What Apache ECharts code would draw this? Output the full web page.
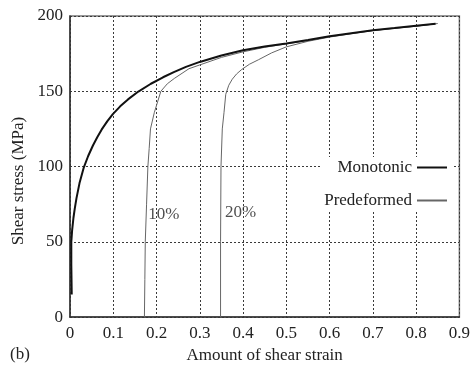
<!DOCTYPE html>
<html>
<head>
<meta charset="utf-8">
<script src="https://cdn.jsdelivr.net/npm/echarts@6/dist/echarts.min.js"></script>
<style>
  html, body { margin: 0; padding: 0; background: #fff; }
  #chart { width: 473px; height: 369px; }
</style>
</head>
<body>
<div id="chart"></div>
<script>
// Shear stress–strain curves: monotonic loading vs. specimens predeformed 10% and 20%
const xTicks = [0, 0.1, 0.2, 0.3, 0.4, 0.5, 0.6, 0.7, 0.8, 0.9];
const yTicks = [0, 50, 100, 150, 200];

const monotonicStrain = [0.004, 0.003, 0.003, 0.005, 0.008, 0.011, 0.015, 0.022, 0.032, 0.042, 0.053, 0.063, 0.073, 0.086, 0.099, 0.116, 0.134, 0.158, 0.187, 0.215, 0.24, 0.268, 0.3, 0.35, 0.4, 0.45, 0.5, 0.55, 0.6, 0.65, 0.7, 0.75, 0.8, 0.845];
const monotonicStress = [15, 35, 50, 58, 66, 72, 79, 89, 99.5, 107, 114, 119.5, 124.5, 130, 134.8, 140, 144.6, 149.8, 155, 159.3, 162.7, 166.2, 169.5, 173.8, 177.3, 179.8, 181.8, 184, 186.5, 188.6, 190.6, 192, 193.5, 194.8];

const pre10Strain = [0.172, 0.173, 0.174, 0.177, 0.18, 0.183, 0.186, 0.195, 0.21, 0.225, 0.241, 0.275, 0.3, 0.35, 0.4, 0.45, 0.5, 0.55, 0.6, 0.65, 0.7, 0.75, 0.8, 0.84];
const pre10Stress = [0, 25, 50, 75, 100, 112, 125, 136, 150, 155, 158.5, 165, 167.5, 172.5, 176.2, 179.2, 181.5, 183.7, 186.3, 188.4, 190.4, 191.9, 193.3, 194.6];

const pre20Strain = [0.348, 0.348, 0.349, 0.352, 0.356, 0.36, 0.367, 0.375, 0.385, 0.397, 0.415, 0.436, 0.466, 0.5, 0.55, 0.6, 0.65, 0.7, 0.75, 0.8, 0.85];
const pre20Stress = [0, 50, 100, 125, 136, 148, 154, 158, 161.5, 164.5, 168, 171, 175.5, 179.5, 183.2, 186, 188.2, 190.3, 191.8, 193.2, 195];

const tagTexts = ['10%', '20%'];
const tagStrain = [0.181, 0.358];
const tagStress = [68, 69.5];

const pairs = (xs, ys) => xs.map((x, i) => [x, ys[i]]);
const serif = '"Liberation Serif", "DejaVu Serif", serif';
const ink = '#222';

const chart = echarts.init(document.getElementById('chart'), null, { renderer: 'canvas' });
chart.setOption({
  animation: false,
  backgroundColor: '#fff',
  textStyle: { fontFamily: serif },
  grid: {
    left: 70, right: 11, top: 16, bottom: 49,
    show: true, borderColor: '#777', borderWidth: 1.5, backgroundColor: 'transparent'
  },
  xAxis: {
    type: 'value',
    min: xTicks[0], max: xTicks[xTicks.length - 1], interval: 0.1,
    name: 'Amount of shear strain',
    nameLocation: 'middle', nameGap: 28,
    nameTextStyle: { fontFamily: serif, fontSize: 17, color: ink },
    axisLine: { show: true, lineStyle: { color: '#333', width: 1.5 } },
    axisTick: { show: false },
    axisLabel: {
      margin: 8, fontFamily: serif, fontSize: 17, color: ink,
      formatter: v => String(+v.toFixed(1))
    },
    splitLine: { show: true, lineStyle: { color: '#3a3a3a', width: 1, type: [2, 2] } }
  },
  yAxis: {
    type: 'value',
    min: yTicks[0], max: yTicks[yTicks.length - 1], interval: 50,
    name: 'Shear stress (MPa)',
    nameLocation: 'middle', nameGap: 43,
    nameTextStyle: { fontFamily: serif, fontSize: 17, color: ink, padding: [0, 29, 0, 0] },
    axisLine: { show: true, lineStyle: { color: '#333', width: 1.5 } },
    axisTick: { show: false },
    axisLabel: { margin: 7, fontFamily: serif, fontSize: 17, color: ink },
    splitLine: { show: true, lineStyle: { color: '#3a3a3a', width: 1, type: [2, 2] } }
  },
  legend: {
    data: ['Monotonic', 'Predeformed'],
    orient: 'vertical',
    right: 21, top: 157,
    align: 'right',
    itemWidth: 30, itemHeight: 14, itemGap: 16,
    itemStyle: { opacity: 0 },
    backgroundColor: '#fff',
    padding: [2, 4, 2, 4],
    textStyle: { fontFamily: serif, fontSize: 17, color: ink }
  },
  graphic: [{
    type: 'text', left: 10, top: 346,
    style: { text: '(b)', font: '17px "Liberation Serif", serif', fill: ink }
  }],
  series: [
    {
      name: 'Predeformed', type: 'line', symbol: 'none', z: 2,
      data: pairs(pre10Strain, pre10Stress),
      lineStyle: { color: '#666', width: 1 }, itemStyle: { color: '#666' }
    },
    {
      name: 'Predeformed', type: 'line', symbol: 'none', z: 2,
      data: pairs(pre20Strain, pre20Stress),
      lineStyle: { color: '#666', width: 1 }, itemStyle: { color: '#666' }
    },
    {
      name: 'Monotonic', type: 'line', symbol: 'none', z: 3,
      data: pairs(monotonicStrain, monotonicStress),
      lineStyle: { color: '#111', width: 2 }, itemStyle: { color: '#111' }
    },
    {
      name: 'tags', type: 'scatter', symbolSize: 0, z: 4, silent: true,
      data: pairs(tagStrain, tagStress),
      label: {
        show: true, position: 'right', distance: 0,
        fontFamily: serif, fontSize: 17, color: ink,
        formatter: p => tagTexts[p.dataIndex]
      }
    }
  ]
});
</script>
</body>
</html>
